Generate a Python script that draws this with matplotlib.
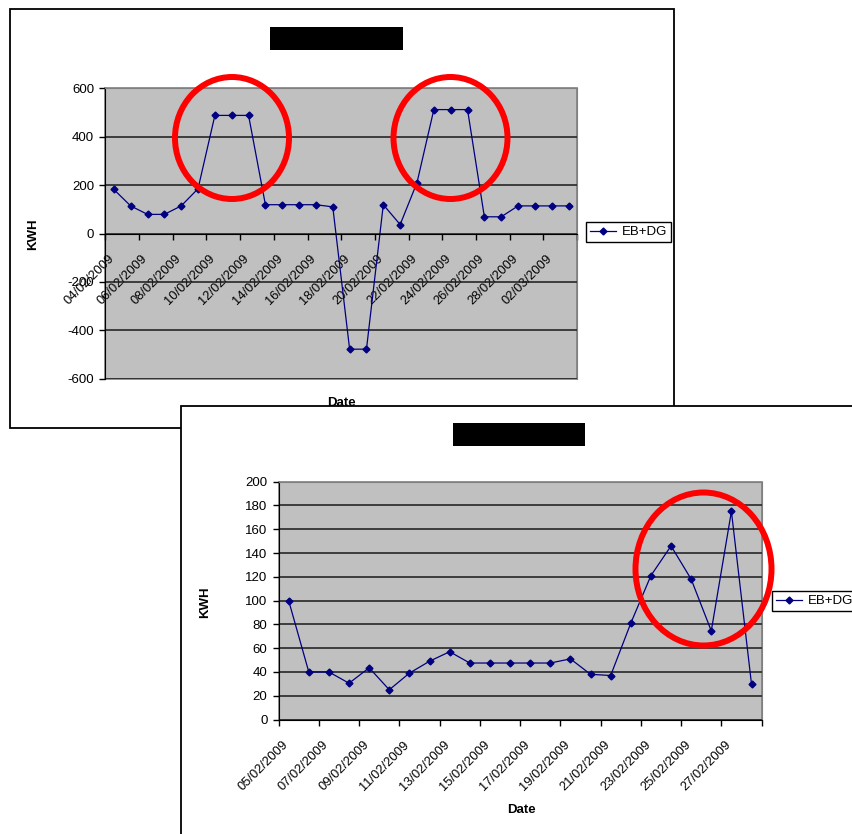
import matplotlib
matplotlib.use("Agg")
import matplotlib.pyplot as plt
import matplotlib.patches as mpatches
import pandas as pd

plt.rcParams['font.family'] = ['Liberation Sans', 'DejaVu Sans']

W, H = 852, 834

# upper chart: 04/02/2009 .. 03/03/2009
top_dates = pd.date_range('2009-02-04', periods=28).strftime('%d/%m/%Y').tolist()
top_kwh = [182, 114, 79, 79, 114, 185, 488, 488, 488, 119, 119, 119, 119, 110,
           -478, -478, 119, 37, 210, 512, 512, 512, 69, 69, 114, 114, 114, 114]
top_yticks = [-600, -400, -200, 0, 200, 400, 600]

# lower chart: 05/02/2009 .. 28/02/2009
bot_dates = pd.date_range('2009-02-05', periods=24).strftime('%d/%m/%Y').tolist()
bot_kwh = [100, 40, 40, 30.5, 43.5, 25, 39, 49, 57, 47.5, 47.5, 47.5, 47.5, 47.5,
           51, 38, 37, 81, 121, 146, 118, 74.5, 175, 29.5]
bot_yticks = [0, 20, 40, 60, 80, 100, 120, 140, 160, 180, 200]

series_name = 'EB+DG'


def fbox(x0, y0, x1, y1):
    # pixel box (top-left origin) -> figure fractions
    return [x0 / W, 1 - y1 / H, (x1 - x0) / W, (y1 - y0) / H]


def frame(fig, x0, y0, x1, y1, z):
    r = mpatches.Rectangle((x0 / W, 1 - y1 / H), (x1 - x0) / W, (y1 - y0) / H,
                           transform=fig.transFigure, fc='white', ec='black',
                           lw=1.3, zorder=z)
    fig.add_artist(r)


def black_title(fig, x0, y0, x1, y1, z):
    r = mpatches.Rectangle((x0 / W, 1 - y1 / H), (x1 - x0) / W, (y1 - y0) / H,
                           transform=fig.transFigure, fc='black', ec='none', zorder=z)
    fig.add_artist(r)


def red_ring(fig, cx, cy, w, h, z):
    e = mpatches.Ellipse((cx / W, 1 - cy / H), w / W, h / H, transform=fig.transFigure,
                         fill=False, ec='#FF0000', lw=4.3, zorder=z)
    fig.add_artist(e)


def chart(fig, ax, dates, kwh, yticks, legend_xy):
    n = len(dates)
    x = [i + 0.5 for i in range(n)]

    # spines first: moving a spine resets the ticks
    for s in ['top', 'right']:
        ax.spines[s].set_color('#808080')
    ax.spines['left'].set_color('black')
    ax.spines['bottom'].set_color('black')
    ax.spines['bottom'].set_position(('data', 0))
    ax.patch.set_edgecolor('#808080')
    ax.patch.set_linewidth(1.2)

    ax.set_facecolor('#C0C0C0')
    ax.plot(x, kwh, color='#000080', lw=0.9, marker='D', ms=3.5, label=series_name)
    ax.set_xlim(0, n)
    ax.set_ylim(yticks[0], yticks[-1])
    ax.set_yticks(yticks)
    ax.set_yticklabels([str(v) for v in yticks])
    ax.yaxis.grid(True, color='#1a1a1a', lw=1.1)
    ax.set_axisbelow(True)

    ax.set_xticks(range(0, n + 1, 2))
    ax.set_xticklabels([])
    ax.set_xticks([i + 0.4 for i in range(0, n, 2)], minor=True)
    ax.tick_params(axis='x', which='minor', length=0, pad=17, labelsize=9.3)
    ax.tick_params(axis='both', which='major', length=4, width=1, direction='out',
                   labelsize=9.5, color='black')
    ax.tick_params(axis='y', pad=4)
    ax.set_xticklabels(dates[::2], minor=True, rotation=45, ha='right', va='center',
                       rotation_mode='anchor')

    leg = ax.legend(loc='upper left', bbox_to_anchor=legend_xy, bbox_transform=fig.transFigure,
                    frameon=True, fancybox=False, edgecolor='black', framealpha=1,
                    borderaxespad=0, fontsize=9.5, handlelength=2.0, borderpad=0.3,
                    handletextpad=0.4)
    leg.get_frame().set_linewidth(1.0)


fig = plt.figure(figsize=(W / 100, H / 100), dpi=100)

# upper chart
frame(fig, 10, 9, 674, 428, 0.1)
black_title(fig, 270, 27, 403, 50, 0.2)
ax1 = fig.add_axes(fbox(105.4, 88.3, 577, 378.7))
ax1.set_zorder(0.5)
chart(fig, ax1, top_dates, top_kwh, top_yticks, (586 / W, 1 - 222 / H))
fig.text(33 / W, 1 - 234 / H, 'KWH', rotation=90, ha='center', va='center',
         fontsize=9.5, fontweight='bold', zorder=0.6)
fig.text(341 / W, 1 - 403.5 / H, 'Date', ha='center', va='center',
         fontsize=9.5, fontweight='bold', zorder=0.6)
red_ring(fig, 232, 138, 114, 122, 0.8)
red_ring(fig, 450.5, 138, 114, 122, 0.8)

# lower chart
frame(fig, 181, 406, 900, 900, 1.0)
black_title(fig, 453, 423, 585, 446, 1.1)
ax2 = fig.add_axes(fbox(278.6, 481.7, 761.6, 719.5))
ax2.set_zorder(1.5)
chart(fig, ax2, bot_dates, bot_kwh, bot_yticks, (772 / W, 1 - 591 / H))
fig.text(205 / W, 1 - 602 / H, 'KWH', rotation=90, ha='center', va='center',
         fontsize=9.5, fontweight='bold', zorder=1.6)
fig.text(521 / W, 1 - 810 / H, 'Date', ha='center', va='center',
         fontsize=9.5, fontweight='bold', zorder=1.6)
red_ring(fig, 703.5, 569, 136, 153, 1.8)

fig.savefig('out.png', dpi=100)
